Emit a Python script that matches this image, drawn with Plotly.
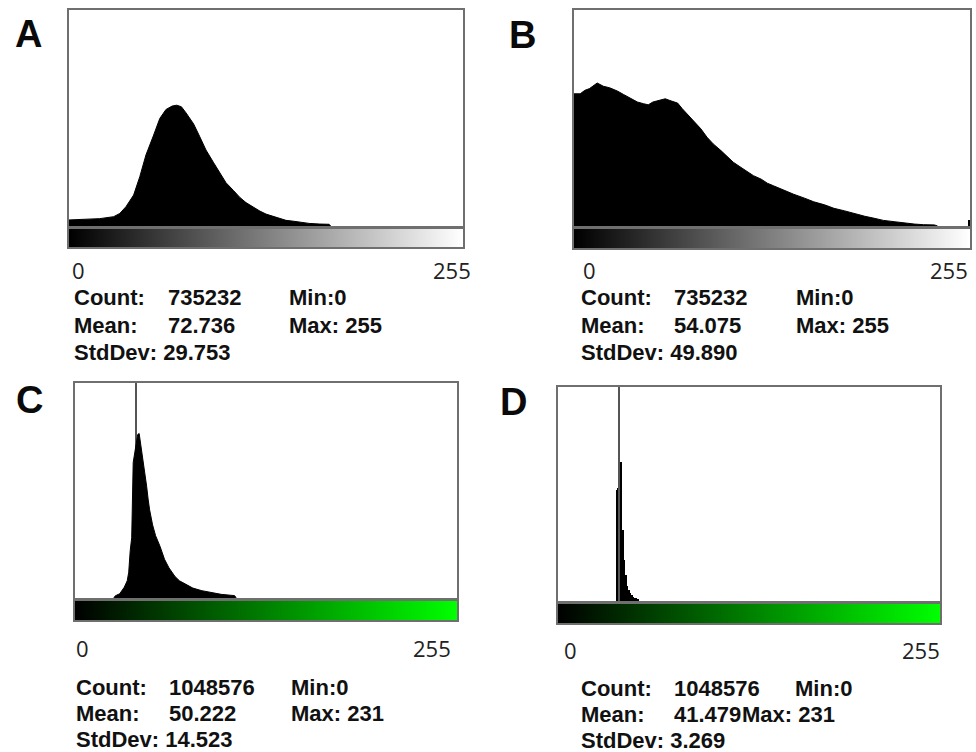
import plotly.graph_objects as go

W, H = 976, 752

# ---------------- data ----------------
LEVELS = list(range(256))            # intensity levels shown by the LUT bars
TICK_LABELS = ["0", "255"]
PANEL_LABELS = ["A", "B", "C", "D"]
Y_MAX = 100                          # histogram display max (percent of box height)

# Panel A histogram outline (intensity, relative height)
A_X = [0, 9, 20, 29, 33, 37, 42, 46, 50, 55, 59, 63, 67, 70, 73, 76, 81, 85, 89,
       94, 98, 102, 107, 111, 115, 120, 124, 128, 133, 137, 141, 146, 150, 156,
       163, 169, 170]
A_Y = [2.8, 3.1, 3.4, 4.3, 5.8, 8.9, 14.3, 22.8, 32.8, 42.0, 49.7, 53.8, 55.4,
       55.8, 55.1, 52.3, 47.1, 41.2, 35.1, 29.2, 24.3, 20.0, 16.3, 13.2, 10.8,
       8.6, 6.9, 5.5, 4.3, 3.4, 2.6, 2.2, 1.7, 1.2, 0.9, 0.8, 0]

# Panel B histogram outline
B_X = [0, 4, 7, 10, 15, 19, 23, 28, 32, 36, 41, 45, 48, 51, 56, 59, 62, 67, 70,
       73, 77, 82, 86, 90, 95, 99, 103, 108, 112, 116, 121, 125, 129, 134, 138,
       142, 149, 155, 162, 168, 175, 181, 188, 194, 200, 207, 213, 220, 226, 233,
       235]
B_Y = [61.2, 61.2, 62.8, 63.6, 66.2, 64.7, 64.0, 62.5, 60.9, 59.4, 57.4, 56.6,
       56.1, 57.4, 58.4, 58.9, 58.1, 56.9, 54.3, 51.9, 48.8, 45.0, 41.1, 38.0,
       34.9, 32.1, 29.5, 27.1, 25.3, 23.3, 21.7, 19.8, 18.6, 17.1, 15.8, 14.7,
       12.9, 11.2, 9.8, 8.2, 7.0, 5.7, 4.5, 3.6, 2.6, 2.0, 1.4, 0.9, 0.6, 0.5, 0]
B_LAST_BIN = [255]
B_LAST_VALUE = [3.0]

# Panel C histogram outline + saturated bin
C_X = [26, 27, 30, 33, 35, 36, 37, 38, 39, 40, 41, 42, 43, 44, 45, 46, 47, 48,
       49, 50, 52, 54, 57, 60, 63, 67, 70, 75, 79, 85, 92, 98, 107, 108]
C_Y = [0, 1.0, 2.0, 5.0, 8.0, 12.0, 22.0, 28.0, 63.0, 68.0, 73.5, 76.0, 76.5,
       72.0, 67.0, 63.0, 57.0, 52.0, 46.0, 41.0, 34.0, 29.0, 24.0, 18.0, 14.0,
       10.0, 8.0, 6.0, 4.6, 3.4, 2.4, 1.7, 1.1, 0]
C_SAT_BIN = [40]
C_SAT_VALUE = [130]

# Panel D histogram bins + saturated bin
D_BINS = [39, 40, 41, 42, 43, 44, 45, 46, 47, 48, 49, 50, 51, 52, 53]
D_VALUES = [52.0, 53.0, 65.0, 65.0, 33.0, 19.0, 12.0, 7.0, 5.0, 3.7, 2.8, 2.0,
            1.6, 1.2, 0.9]
D_SAT_BIN = [40]
D_SAT_VALUE = [140]

# Statistics
COUNT = [735232, 735232, 1048576, 1048576]
MEAN = ["72.736", "54.075", "50.222", "41.479"]
STDDEV = ["29.753", "49.890", "14.523", "3.269"]
MIN = [0, 0, 0, 0]
MAX = [255, 255, 231, 231]

# ---------------- layout (pixels) ----------------
PANELS = [
    dict(box=(69, 463, 9.5, 226), lut=(229, 247), letter=(28, 34), tick_y=270,
         tick0=70, tick255=473, col=(72, 166, 287), rows=(298, 325, 352), max_x=287,
         scale=[[0, "#000000"], [1, "#ffffff"]]),
    dict(box=(574, 970, 10, 226), lut=(229, 248), letter=(522, 35), tick_y=270,
         tick0=581, tick255=970, col=(579, 672, 794), rows=(298, 325, 352), max_x=794,
         scale=[[0, "#000000"], [1, "#ffffff"]]),
    dict(box=(75, 457, 383, 598), lut=(601, 620), letter=(29, 400), tick_y=648,
         tick0=74, tick255=453, col=(74, 167, 289), rows=(687, 713, 739), max_x=289,
         scale=[[0, "#000000"], [1, "#00ff00"]]),
    dict(box=(558, 940, 387, 601), lut=(604, 623), letter=(513, 402), tick_y=649.5,
         tick0=562, tick255=942, col=(579, 672, 793), rows=(688, 714, 740), max_x=740,
         scale=[[0, "#000000"], [1, "#00ff00"]]),
]

BORDER = "#6f6f6f"
SAT_COLOR = "#555555"


def xd(a, b):
    return [a / W, b / W]


def yd(top, bot):
    return [1 - bot / H, 1 - top / H]


def sat_bar(bins, values):
    return go.Bar(x=bins, y=values, width=0.7, offset=0.3,
                  marker=dict(color=[SAT_COLOR if v > Y_MAX else "black" for v in values],
                              line=dict(width=0)))


fig = go.Figure()
layout = {}
annotations = []

hist_traces = [
    [go.Scatter(x=A_X, y=A_Y, mode="lines", fill="tozeroy", fillcolor="black",
                line=dict(color="black", width=1))],
    [go.Scatter(x=B_X, y=B_Y, mode="lines", fill="tozeroy", fillcolor="black",
                line=dict(color="black", width=1)),
     go.Bar(x=B_LAST_BIN, y=B_LAST_VALUE, width=1, offset=0,
            marker=dict(color="black", line=dict(width=0)))],
    [go.Scatter(x=C_X, y=C_Y, mode="lines", fill="tozeroy", fillcolor="black",
                line=dict(color="black", width=1)),
     sat_bar(C_SAT_BIN, C_SAT_VALUE)],
    [go.Bar(x=D_BINS, y=D_VALUES, width=1, offset=0,
            marker=dict(color="black", line=dict(width=0))),
     sat_bar(D_SAT_BIN, D_SAT_VALUE)],
]


def ann(text, px, py, anchor="left", size=22, bold=True,
        family="Liberation Sans, Arial, sans-serif", color="#111111"):
    annotations.append(dict(
        text=f"<b>{text}</b>" if bold else text, x=px / W, y=1 - py / H,
        xref="paper", yref="paper", xanchor=anchor, yanchor="middle",
        showarrow=False, font=dict(family=family, size=size, color=color)))


for i, p in enumerate(PANELS):
    hn = 2 * i + 1
    ln = 2 * i + 2
    hx = "x" if hn == 1 else f"x{hn}"
    hy = "y" if hn == 1 else f"y{hn}"
    lx, ly = f"x{ln}", f"y{ln}"
    x0, x1, t, b = p["box"]
    common = dict(showline=True, mirror=True, linecolor=BORDER, linewidth=1.5,
                  showgrid=False, zeroline=False, showticklabels=False, ticks="",
                  fixedrange=True)
    layout["xaxis" if hn == 1 else f"xaxis{hn}"] = dict(
        domain=xd(x0, x1), range=[0, 256], anchor=hy, **common)
    layout["yaxis" if hn == 1 else f"yaxis{hn}"] = dict(
        domain=yd(t, b), range=[0, Y_MAX], anchor=hx, **common)
    lt, lb = p["lut"]
    layout[f"xaxis{ln}"] = dict(domain=xd(x0, x1), range=[0, 256], anchor=ly, **common)
    layout[f"yaxis{ln}"] = dict(domain=yd(lt, lb), range=[-0.5, 0.5], anchor=lx, **common)

    for tr in hist_traces[i]:
        tr.update(xaxis=hx, yaxis=hy, hoverinfo="skip", showlegend=False)
        fig.add_trace(tr)

    fig.add_trace(go.Heatmap(z=[LEVELS], x0=0.5, dx=1, y0=0, dy=1,
                             colorscale=p["scale"], zmin=0, zmax=255,
                             showscale=False, xaxis=lx, yaxis=ly, hoverinfo="skip"))

    # panel letter
    ann(PANEL_LABELS[i], p["letter"][0], p["letter"][1], anchor="center", size=38,
        color="#0a0a0a")
    # tick labels
    ann(TICK_LABELS[0], p["tick0"], p["tick_y"], anchor="left", size=22, bold=False,
        family="Open Sans, sans-serif", color="#222222")
    ann(TICK_LABELS[1], p["tick255"], p["tick_y"], anchor="right", size=22, bold=False,
        family="Open Sans, sans-serif", color="#222222")
    # statistics
    c0, c1, c2 = p["col"]
    r0, r1, r2 = p["rows"]
    ann("Count:", c0, r0)
    ann(f"{COUNT[i]}", c1, r0)
    ann(f"Min:{MIN[i]}", c2, r0)
    ann("Mean:", c0, r1)
    ann(MEAN[i], c1, r1)
    ann(f"Max: {MAX[i]}", p["max_x"], r1)
    ann(f"StdDev: {STDDEV[i]}", c0, r2)

fig.update_layout(
    width=W, height=H, margin=dict(l=0, r=0, t=0, b=0),
    paper_bgcolor="white", plot_bgcolor="white", showlegend=False,
    barmode="overlay", bargap=0, annotations=annotations, **layout)

fig.write_html("out.html", config={"displayModeBar": False},
               post_script="document.body.style.margin='0px';document.body.style.overflow='hidden';")
